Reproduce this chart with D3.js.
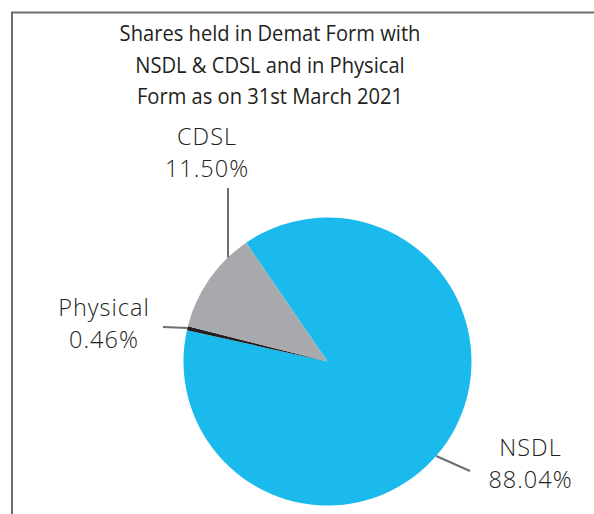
<!DOCTYPE html>
<html>
<head>
<meta charset="utf-8">
<script src="https://cdn.jsdelivr.net/npm/d3@7"></script>
<style>
  body { margin: 0; background: #fff; }
  svg { display: block; }
</style>
</head>
<body>
<svg id="chart" width="594" height="514"></svg>
<script>
// data
const categories = ["NSDL", "Physical", "CDSL"]
const shares = [88.04, 0.46, 11.50]
const colors = ["#1bbaed", "#231f20", "#a7a9ac"]
const titleLines = ["Shares held in Demat Form with", "NSDL & CDSL and in Physical", "Form as on 31st March 2021"]

const width = 594, height = 514
const cx = 327.5, cy = 361.5, radius = 144
const startDeg = -34.4

const svg = d3.select("#chart")

// frame (top + left edge, rest is cropped)
svg.append("path")
    .attr("d", `M12,${height} V12.5 H${width}`)
    .attr("fill", "none")
    .attr("stroke", "#6d6e71")
    .attr("stroke-width", 2)

// title, squeezed a bit to match the condensed original face
svg.append("g")
    .attr("transform", "translate(270,0) scale(0.895,1)")
    .attr("font-family", "'Open Sans', sans-serif")
    .attr("font-size", 22.5)
    .attr("font-weight", 500)
    .attr("fill", "#231f20")
    .attr("text-anchor", "middle")
    .selectAll("text")
    .data(titleLines)
    .join("text")
    .attr("x", 0)
    .attr("y", (d, i) => 41.5 + i * 31.5)
    .text(d => d)

const data = categories.map((c, i) => ({ name: c, value: shares[i], color: colors[i] }))

const toRad = d => d * Math.PI / 180
const pie = d3.pie()
    .sort(null)
    .value(d => d.value)
    .startAngle(toRad(startDeg))
    .endAngle(toRad(startDeg) + 2 * Math.PI)

const arc = d3.arc().innerRadius(0).outerRadius(radius)
const arcs = pie(data)

const g = svg.append("g").attr("transform", `translate(${cx},${cy})`)
g.selectAll("path")
    .data(arcs)
    .join("path")
    .attr("d", arc)
    .attr("fill", d => d.data.color)

// label layout: where the leader touches the pie, where it ends, where the text sits
const labelLayout = {
    NSDL: { angle: 131, end: [142.5, 109.5], text: [203, 94] },
    Physical: { angle: -76.5, end: [-164.5, -34.5], text: [-223.5, -45.5] },
    CDSL: { angle: -43.7, end: [-99.5, -173.5], text: [-120.5, -216.5] }
}

const pt = (deg, r) => [r * Math.sin(toRad(deg)), -r * Math.cos(toRad(deg))]

const labels = g.append("g")
arcs.forEach(a => {
    const L = labelLayout[a.data.name]
    const p0 = pt(L.angle, radius)
    labels.append("line")
        .attr("x1", p0[0]).attr("y1", p0[1])
        .attr("x2", L.end[0]).attr("y2", L.end[1])
        .attr("stroke", "#6d6e71")
        .attr("stroke-width", 2)
    const t = labels.append("text")
        .attr("x", L.text[0])
        .attr("y", L.text[1])
        .attr("text-anchor", "middle")
        .attr("font-family", "'Open Sans', sans-serif")
        .attr("font-size", 23.5)
        .attr("font-weight", 300)
        .attr("letter-spacing", 1)
        .attr("fill", "#231f20")
    t.append("tspan").attr("x", L.text[0]).text(a.data.name)
    t.append("tspan").attr("x", L.text[0]).attr("dy", 32).text(d3.format(".2f")(a.data.value) + "%")
})
</script>
</body>
</html>
